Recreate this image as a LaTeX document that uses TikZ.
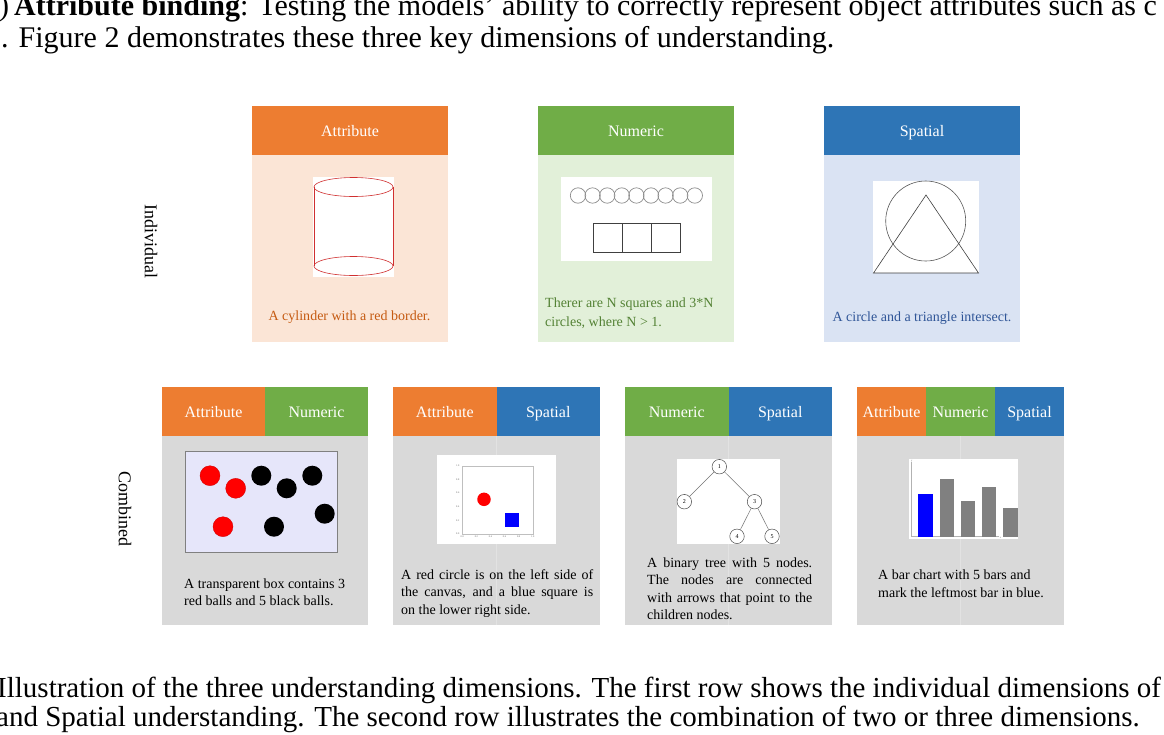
\documentclass[tikz,border=0pt]{standalone}
\usepackage{fontspec}
\setmainfont{Liberation Serif}
\definecolor{orH}{HTML}{ED7D31}
\definecolor{grH}{HTML}{70AD47}
\definecolor{blH}{HTML}{2E75B6}
\definecolor{orB}{HTML}{FBE5D6}
\definecolor{grB}{HTML}{E2F0D9}
\definecolor{blB}{HTML}{DAE3F3}
\definecolor{gyB}{HTML}{D9D9D9}
\definecolor{gyL}{HTML}{E2E2E2}
\definecolor{orT}{HTML}{C55A11}
\definecolor{grT}{HTML}{548235}
\definecolor{blT}{HTML}{2F5597}
\definecolor{lav}{HTML}{E6E6FA}
\definecolor{cylred}{HTML}{D03030}
\begin{document}
\begin{tikzpicture}[x=1pt,y=-1pt,
  hdr/.style={anchor=north west, inner sep=0pt, outer sep=0pt, text=white,
    text height=12pt, text depth=0pt, font=\fontsize{16}{19}\selectfont},
  bodybox/.style={anchor=north west, inner sep=0pt, outer sep=0pt},
  picbox/.style={anchor=north west, inner sep=0pt, outer sep=0pt, fill=white},
  captxt/.style={inner sep=0pt, font=\fontsize{14}{17.4}\selectfont},
  sidelbl/.style={inner sep=0pt, rotate=-90, font=\fontsize{18}{21}\selectfont},
  paratxt/.style={inner sep=0pt, anchor=base west, font=\fontsize{30}{32}\selectfont},
  captline/.style={inner sep=0pt, anchor=base west, font=\fontsize{29}{30}\selectfont},
  tnode/.style={circle, draw=black!70, fill=white, line width=0.5pt, inner sep=0pt,
    minimum size=14.5pt, font=\fontsize{6}{7}\selectfont},
  ticklbl/.style={inner sep=0pt, font=\fontsize{2.5}{3}\selectfont, text=black!60},
  ball/.style={circle, inner sep=0pt, minimum size=20pt}
]
\clip (0,0) rectangle (1164,734);
\fill[white] (0,0) rectangle (1164,734);

% ---------- surrounding paper text ----------
\node[paratxt] (p1) at (-1,15) {)\,\textbf{Attribute binding}: Testing the models' ability to correctly represent object attributes such as c};
\node[paratxt] (p2) at (1,47) {. Figure 2 demonstrates these three key dimensions of understanding.};
\node[captline] (c1) at (-3,697) {Illustration of the three understanding dimensions. The first row shows the individual dimensions of};
\node[captline] (c2) at (-4,726) {and Spatial understanding. The second row illustrates the combination of two or three dimensions.};

% ---------- row labels ----------
\node[sidelbl] (lind) at (151,241) {Individual};
\node[sidelbl] (lcomb) at (125,509) {Combined};

% ---------- top row ----------
% Attribute
\node[hdr, fill=orH, minimum width=196pt, minimum height=49pt] (ah) at (252,106) {Attribute};
\node[bodybox, fill=orB, minimum width=196pt, minimum height=187pt] (ab) at (252,155) {};
\node[picbox, minimum width=81pt, minimum height=100pt] (apic) at (313,177) {};
\begin{scope}[draw=cylred, line width=0.6pt]
  \draw (353.5,187) ellipse [x radius=39.5, y radius=9.5];
  \draw (314,187) -- (314,266);
  \draw (393,187) -- (393,266);
  \draw (353.5,266) ellipse [x radius=39.5, y radius=9.5];
\end{scope}
\node[captxt, text=orT, anchor=base] (acap) at (349.5,320) {A cylinder with a red border.};

% Numeric
\node[hdr, fill=grH, minimum width=196pt, minimum height=49pt] (nh) at (538,106) {Numeric};
\node[bodybox, fill=grB, minimum width=196pt, minimum height=187pt] (nb) at (538,155) {};
\node[picbox, minimum width=151pt, minimum height=84pt] (npic) at (561,177) {};
\foreach \i in {0,...,8} {
  \draw[black!45, line width=0.7pt] (578+\i*14.6,195.5) circle [radius=7.7];
}
\foreach \i in {0,1,2} {
  \draw[black!75, line width=0.6pt] (593+\i*29,223.5) rectangle ++(29,29);
}
\node[captxt, text=grT, anchor=base west, font=\fontsize{14}{19}\selectfont, align=left] (ncap) at (545,326) {Therer are N squares and 3*N\\circles, where N > 1.};

% Spatial
\node[hdr, fill=blH, minimum width=196pt, minimum height=49pt] (sh) at (824,106) {Spatial};
\node[bodybox, fill=blB, minimum width=196pt, minimum height=187pt] (sb) at (824,155) {};
\node[picbox, minimum width=106pt, minimum height=92pt] (spic) at (873,181) {};
\draw[black!65, line width=0.6pt] (925.7,221) circle [radius=40];
\draw[black!75, line width=0.6pt] (926,195) -- (873.5,273) -- (978.5,273) -- cycle;
\node[captxt, text=blT, anchor=base] (scap) at (922,321) {A circle and a triangle intersect.};

% ---------- bottom row ----------
% Panel 1: Attribute + Numeric
\node[hdr, fill=orH, minimum width=103pt, minimum height=49pt] (b1h1) at (162,387) {Attribute};
\node[hdr, fill=grH, minimum width=103pt, minimum height=49pt] (b1h2) at (265,387) {Numeric};
\node[bodybox, fill=gyB, minimum width=206pt, minimum height=189pt] (b1b) at (162,436) {};
\node[picbox, fill=lav, draw=black!50, line width=0.5pt, minimum width=152pt, minimum height=101pt] (b1pic) at (185.5,451) {};
\foreach \x/\y [count=\k] in {210/475.7, 235.7/488.3, 223/526.7} {
  \node[ball, fill=red, draw=red!80!black, line width=0.3pt] (rb\k) at (\x,\y) {};
}
\foreach \x/\y [count=\k] in {261.3/475.7, 286.7/488.3, 312.3/475.7, 324.7/513.7, 274/526.7} {
  \node[ball, fill=black] (bb\k) at (\x,\y) {};
}
\node[captxt, anchor=base west, align=left] (b1cap) at (184,605.5) {A transparent box contains 3\\red balls and 5 black balls.};

% Panel 2: Attribute + Spatial
\node[hdr, fill=orH, minimum width=103.5pt, minimum height=49pt] (b2h1) at (393,387) {Attribute};
\node[hdr, fill=blH, minimum width=103.5pt, minimum height=49pt] (b2h2) at (496.5,387) {Spatial};
\node[bodybox, fill=gyB, minimum width=207pt, minimum height=189pt] (b2b) at (393,436) {};
\draw[gyL, line width=0.6pt] (496.5,436) -- (496.5,625);
\node[picbox, minimum width=119pt, minimum height=89pt] (b2pic) at (437,455) {};
\draw[black!25, line width=0.4pt] (462.3,465.7) rectangle (532.7,534);
\foreach \v [count=\k from 0] in {0.0,0.2,0.4,0.6,0.8,1.0} {
  \node[ticklbl, anchor=east] (ty\k) at (459.5,534-\k*13.66) {\v};
  \node[ticklbl, anchor=north] (tx\k) at (462.3+\k*14.08,536) {\v};
}
\node[circle, fill=red, inner sep=0pt, minimum size=13.5pt] (rc) at (484,499.3) {};
\node[fill=blue, inner sep=0pt, minimum size=13.7pt] (bsq) at (511.8,520.2) {};
\node[captxt, anchor=base west, align=left] (b2cap) at (401,614) {\makebox[192pt][s]{A red circle is on the left side of}\\\makebox[192pt][s]{the canvas, and a blue square is}\\on the lower right side.};

% Panel 3: Numeric + Spatial
\node[hdr, fill=grH, minimum width=103.5pt, minimum height=49pt] (b3h1) at (625,387) {Numeric};
\node[hdr, fill=blH, minimum width=103.5pt, minimum height=49pt] (b3h2) at (728.5,387) {Spatial};
\node[bodybox, fill=gyB, minimum width=207pt, minimum height=189pt] (b3b) at (625,436) {};
\draw[gyL, line width=0.6pt] (728.5,436) -- (728.5,625);
\node[picbox, minimum width=103pt, minimum height=85pt] (b3pic) at (677,459) {};
\node[tnode] (t1) at (719.3,466.7) {1};
\node[tnode] (t2) at (684.3,501.7) {2};
\node[tnode] (t3) at (754.5,501.7) {3};
\node[tnode] (t4) at (737,536.3) {4};
\node[tnode] (t5) at (772,536.3) {5};
\draw[black!55, line width=0.5pt] (t1) -- (t2);
\draw[black!55, line width=0.5pt] (t1) -- (t3);
\draw[black!55, line width=0.5pt] (t3) -- (t4);
\draw[black!55, line width=0.5pt] (t3) -- (t5);
\node[captxt, anchor=base west, align=left] (b3cap) at (647,619.5) {\makebox[165pt][s]{A binary tree with 5 nodes.}\\\makebox[165pt][s]{The nodes are connected}\\\makebox[165pt][s]{with arrows that point to the}\\children nodes.};

% Panel 4: Attribute + Numeric + Spatial
\node[hdr, fill=orH, minimum width=69pt, minimum height=49pt] (b4h1) at (857,387) {Attribute};
\node[hdr, fill=grH, minimum width=69pt, minimum height=49pt] (b4h2) at (926,387) {Numeric};
\node[hdr, fill=blH, minimum width=69pt, minimum height=49pt] (b4h3) at (995,387) {Spatial};
\node[bodybox, fill=gyB, minimum width=207pt, minimum height=189pt] (b4b) at (857,436) {};
\draw[gyL, line width=0.6pt] (960,436) -- (960,625);
\node[picbox, minimum width=109pt, minimum height=80pt] (b4pic) at (909,459) {};
\draw[black!30, line width=0.5pt] (911.7,461.7) -- (911.7,536.7) -- (999.3,536.7);
\node[ticklbl] (yl) at (911.7,460.8) {y};
\node[ticklbl] (xl) at (1000.5,537.5) {x};
\fill[blue] (918.3,494.3) rectangle (933,536.7);
\fill[black!50] (940,479.3) rectangle (954,536.7);
\fill[black!50] (961,501.3) rectangle (975.3,536.7);
\fill[black!50] (982.3,486.7) rectangle (996.3,536.7);
\fill[black!50] (1003.3,508.3) rectangle (1017.7,536.7);
\node[captxt, anchor=base west, align=left] (b4cap) at (878,597) {A bar chart with 5 bars and\\mark the leftmost bar in blue.};
\end{tikzpicture}
\end{document}
